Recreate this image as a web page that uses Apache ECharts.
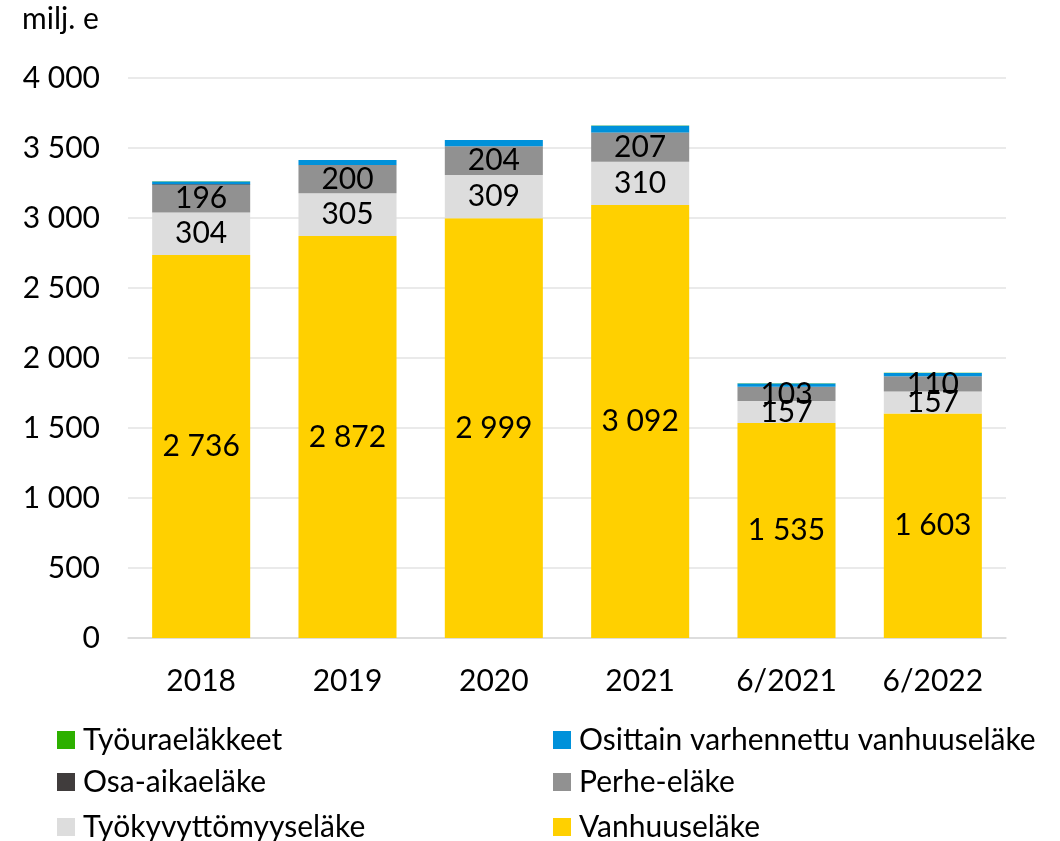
<!DOCTYPE html>
<html><head><meta charset="utf-8">
<script src="https://cdn.jsdelivr.net/npm/echarts@6/dist/echarts.min.js"></script>
<style>html,body{margin:0;padding:0;background:#fff}#c{width:1060px;height:841px}</style>
</head><body><div id="c"></div>
<script>
const categories = ['2018','2019','2020','2021','6/2021','6/2022'];
const vanhuus = [2736, 2872, 2999, 3092, 1535, 1603];
const tyokyvyttomyys = [304, 305, 309, 310, 157, 157];
const perhe = [196, 200, 204, 207, 103, 110];
const osaAika = [5, 2, 1, 1, 0, 0];
const osittain = [20, 35, 44, 49, 23, 23];
const tyoura = [2, 1, 1, 1, 1, 1];
const yTicks = [0, 500, 1000, 1500, 2000, 2500, 3000, 3500, 4000];

const FONT = 'Lato';
const FS = 30;
const fmt = v => String(v).replace(/\B(?=(\d{3})+(?!\d))/g, ' ');
const lbl = {show:true, position:'inside', color:'#000', fontSize:FS, fontFamily:FONT, formatter:p=>fmt(p.value)};

const seriesDefs = [
  {name:'Vanhuuseläke', data:vanhuus, color:'#FFD000', label:lbl},
  {name:'Työkyvyttömyyseläke', data:tyokyvyttomyys, color:'#DDDDDD', label:lbl},
  {name:'Perhe-eläke', data:perhe, color:'#919191', label:lbl},
  {name:'Osa-aikaeläke', data:osaAika, color:'#403C3C', label:{show:false}},
  {name:'Osittain varhennettu vanhuuseläke', data:osittain, color:'#0091DA', label:{show:false}},
  {name:'Työuraeläkkeet', data:tyoura, color:'#2DB000', label:{show:false}}
];

const legendPos = [
  ['Työuraeläkkeet', 57, 725],
  ['Osittain varhennettu vanhuuseläke', 553, 725],
  ['Osa-aikaeläke', 57, 767],
  ['Perhe-eläke', 553, 767],
  ['Työkyvyttömyyseläke', 57, 812],
  ['Vanhuuseläke', 553, 812]
];

const chart = echarts.init(document.getElementById('c'));
chart.setOption({
  animation:false,
  textStyle:{fontFamily:FONT},
  title:{text:'milj. e', left:22, top:4, padding:0, textStyle:{fontSize:FS, fontWeight:'normal', color:'#000', fontFamily:FONT}},
  legend: legendPos.map(([n,x,y]) => ({
    data:[n], left:x, top:y, padding:0, itemWidth:18, itemHeight:18, itemGap:0,
    icon:'rect', textStyle:{fontSize:FS, color:'#000', fontFamily:FONT, padding:[0,0,0,3]}
  })),
  grid:{left:128, right:54, top:78, bottom:203, containLabel:false},
  xAxis:{type:'category', data:categories,
    axisLine:{lineStyle:{color:'#d9d9d9', width:1.5}}, axisTick:{show:false},
    axisLabel:{fontSize:FS, color:'#000', margin:28, fontFamily:FONT}},
  yAxis:{type:'value', min:0, max:4000, interval:500,
    axisLine:{show:false}, axisTick:{show:false},
    splitLine:{lineStyle:{color:'#e3e3e3', width:1.5}},
    axisLabel:{fontSize:FS, color:'#000', margin:28, fontFamily:FONT, formatter:v=>fmt(v)}},
  series: seriesDefs.map(s => ({
    name:s.name, type:'bar', stack:'t', data:s.data, barWidth:'67%',
    itemStyle:{color:s.color}, label:s.label, emphasis:{disabled:true}
  }))
});
</script></body></html>
